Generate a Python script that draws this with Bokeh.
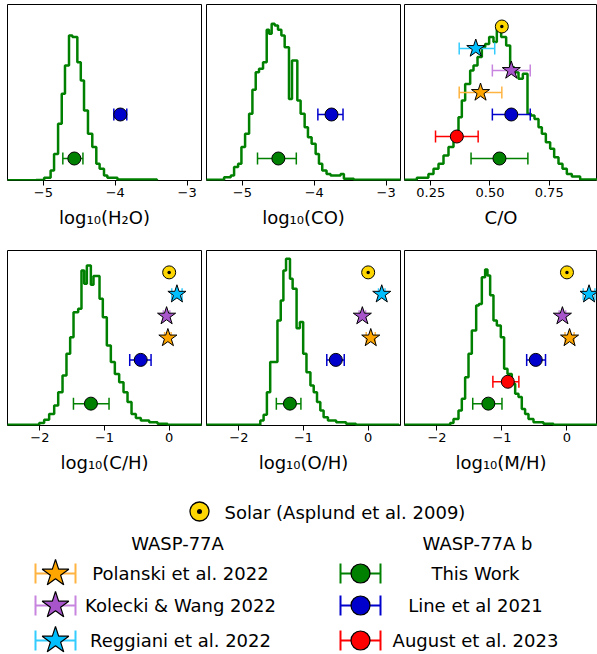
import math
from bokeh.plotting import figure
from bokeh.layouts import column, row
from bokeh.models import Range1d, FixedTicker
from bokeh.embed import file_html
from bokeh.resources import INLINE
from bokeh.core.properties import value

FONT = "DejaVu Sans"

# ---------------- data ----------------
panel_labels = ["log₁₀(H₂O)", "log₁₀(CO)", "C/O", "log₁₀(C/H)", "log₁₀(O/H)", "log₁₀(M/H)"]
panel_xranges = [(-5.5, -2.8), (-5.5, -2.8), (0.139, 0.954), (-2.5, 0.5), (-2.5, 0.5), (-2.5, 0.47)]
panel_ticks = [[-5, -4, -3], [-5, -4, -3], [0.25, 0.5, 0.75], [-2, -1, 0], [-2, -1, 0], [-2, -1, 0]]
panel_ticklabels = [["−5", "−4", "−3"], ["−5", "−4", "−3"], ["0.25", "0.50", "0.75"],
                    ["−2", "−1", "0"], ["−2", "−1", "0"], ["−2", "−1", "0"]]

# posterior histograms (This Work): bin edges and heights
h2o_edges = [-5.5, -5.10, -4.99, -4.90, -4.852, -4.796, -4.745, -4.70, -4.644, -4.597, -4.528, -4.48,
             -4.435, -4.38, -4.32, -4.264, -4.218, -4.157, -4.11, -3.97, -3.42]
h2o_heights = [0.01, 0.02, 0.12, 0.45, 1.21, 2.58, 3.94, 5.23, 6.59, 6.52, 5.38, 4.55, 3.18, 2.12,
               1.52, 0.76, 0.53, 0.23, 0.12, 0.045]

co_edges = [-5.5, -5.255, -5.162, -5.116, -5.06, -5.014, -4.963, -4.907, -4.861, -4.815, -4.769, -4.713,
            -4.662, -4.63, -4.593, -4.551, -4.505, -4.458, -4.412, -4.352, -4.31, -4.236, -4.19, -4.134,
            -4.088, -4.037, -3.981, -3.935, -3.889, -3.829, -3.773, -3.634, -3.588, -3.449, -2.8]
co_heights = [0.03, 0.15, 0.23, 0.61, 0.76, 1.52, 2.12, 3.03, 4.12, 4.92, 5.08, 5.38, 6.85, 6.67, 7.12,
              7.05, 6.85, 6.59, 6.06, 3.71, 5.45, 3.64, 3.03, 2.42, 1.97, 1.67, 1.21, 0.76, 0.45, 0.30,
              0.23, 0.30, 0.08, 0.03]

c_o_edges = [0.139, 0.191, 0.240, 0.2615, 0.2826, 0.3037, 0.3248, 0.3459, 0.367, 0.3811, 0.3952, 0.4163,
             0.4304, 0.4473, 0.4656, 0.4797, 0.4965, 0.5148, 0.5289, 0.5472, 0.5683, 0.5852, 0.6021,
             0.6204, 0.6387, 0.6584, 0.6725, 0.6880, 0.7049, 0.7190, 0.7359, 0.7541, 0.7710, 0.7893,
             0.8062, 0.8245, 0.8456, 0.8808, 0.954]
c_o_heights = [0.03, 0.12, 0.30, 0.53, 0.76, 1.14, 1.52, 2.12, 2.88, 3.64, 4.39, 5.0, 5.23, 5.61, 6.06,
               6.21, 6.52, 6.3, 6.9, 6.52, 6.14, 5.15, 4.92, 4.62, 4.85, 3.03, 2.95, 2.8, 2.42, 2.12,
               1.74, 1.44, 1.06, 0.76, 0.53, 0.30, 0.18, 0.05]

c_h_edges = [-2.5, -2.01, -1.933, -1.856, -1.778, -1.716, -1.649, -1.588, -1.531, -1.479, -1.407, -1.356,
             -1.314, -1.273, -1.211, -1.170, -1.077, -1.026, -0.964, -0.902, -0.840, -0.773, -0.706,
             -0.644, -0.582, -0.515, -0.438, -0.309, -0.180, -0.026, 0.5]
c_h_heights = [0.03, 0.11, 0.26, 0.53, 0.91, 1.52, 2.29, 3.28, 4.04, 5.18, 5.34, 7.09, 6.48, 7.32, 6.43,
               6.83, 5.79, 4.95, 3.66, 2.90, 2.36, 1.98, 1.52, 1.07, 0.53, 0.34, 0.23, 0.15, 0.08, 0.03]

o_h_edges = [-2.5, -1.668, -1.617, -1.566, -1.515, -1.403, -1.352, -1.311, -1.270, -1.209, -1.168, -1.107,
             -1.056, -1.005, -0.954, -0.893, -0.842, -0.791, -0.740, -0.689, -0.622, -0.495, -0.342,
             -0.189, 0.474]
o_h_heights = [0.03, 0.23, 0.49, 1.52, 2.90, 4.80, 5.72, 7.09, 7.62, 6.71, 6.25, 4.45, 4.73, 3.28, 2.44,
               1.83, 1.52, 1.07, 0.69, 0.38, 0.23, 0.15, 0.08, 0.03]

m_h_edges = [-2.5, -1.797, -1.746, -1.669, -1.618, -1.567, -1.515, -1.464, -1.397, -1.356, -1.31, -1.259,
             -1.223, -1.182, -1.131, -1.079, -1.018, -0.967, -0.915, -0.849, -0.797, -0.746, -0.695,
             -0.644, -0.592, -0.515, -0.362, -0.208, 0.47]
m_h_heights = [0.03, 0.12, 0.30, 0.69, 1.22, 2.21, 3.28, 4.34, 5.49, 5.56, 6.78, 7.13, 6.86, 5.95, 4.80,
               4.57, 4.04, 2.59, 2.36, 1.91, 1.45, 1.30, 0.76, 0.53, 0.30, 0.15, 0.08, 0.03]

hist_edges = [h2o_edges, co_edges, c_o_edges, c_h_edges, o_h_edges, m_h_edges]
hist_heights = [h2o_heights, co_heights, c_o_heights, c_h_heights, o_h_heights, m_h_heights]

# values per panel: (H2O, CO, C/O, C/H, O/H, M/H); None = not shown
this_work_val = [-4.57, -4.50, 0.54, -1.21, -1.21, -1.21]
this_work_lo = [0.16, 0.29, 0.12, 0.27, 0.21, 0.24]
this_work_hi = [0.12, 0.25, 0.12, 0.28, 0.17, 0.21]

august_val = [None, None, 0.36, None, None, -0.91]
august_lo = [None, None, 0.09, None, None, 0.23]
august_hi = [None, None, 0.09, None, None, 0.17]

line_val = [-3.93, -3.76, 0.59, -0.44, -0.50, -0.48]
line_lo = [0.09, 0.19, 0.08, 0.17, 0.14, 0.14]
line_hi = [0.09, 0.16, 0.08, 0.16, 0.13, 0.15]

polanski_val = [None, None, 0.46, -0.02, 0.04, 0.04]
polanski_lo = [None, None, 0.09, 0.05, 0.07, 0.07]
polanski_hi = [None, None, 0.09, 0.05, 0.07, 0.07]

kolecki_val = [None, None, 0.59, -0.04, -0.09, -0.07]
kolecki_lo = [None, None, 0.08, 0.05, 0.05, 0.05]
kolecki_hi = [None, None, 0.08, 0.05, 0.05, 0.05]

reggiani_val = [None, None, 0.44, 0.12, 0.21, 0.34]
reggiani_lo = [None, None, 0.07, 0.08, 0.05, 0.09]
reggiani_hi = [None, None, 0.08, 0.08, 0.05, 0.09]

solar_val = [None, None, 0.55, 0.0, 0.0, 0.0]

series = [
    # name, values, lo, hi, slot, marker, fill, errcolor
    ("This Work", this_work_val, this_work_lo, this_work_hi, 1, "circle", "#008000", "#008000"),
    ("August et al. 2023", august_val, august_lo, august_hi, 2, "circle", "#ff0000", "#ff0000"),
    ("Line et al 2021", line_val, line_lo, line_hi, 3, "circle", "#0000cd", "#0000cd"),
    ("Polanski et al. 2022", polanski_val, polanski_lo, polanski_hi, 4, "star", "#ffa500", "#ffb340"),
    ("Kolecki & Wang 2022", kolecki_val, kolecki_lo, kolecki_hi, 5, "star", "#a855cc", "#c785e0"),
    ("Reggiani et al. 2022", reggiani_val, reggiani_lo, reggiani_hi, 6, "star", "#00bfff", "#33ccff"),
]
solar_level = 7

HIST_COLOR = "#008000"
GOLD = "#ffd700"


def axis_style(p, idx):
    ax = p.xaxis[0]
    ax.ticker = FixedTicker(ticks=panel_ticks[idx])
    ax.major_label_overrides = {t: s for t, s in zip(panel_ticks[idx], panel_ticklabels[idx])}
    ax.axis_label = panel_labels[idx]
    ax.axis_label_text_font = FONT
    ax.axis_label_text_font_style = "normal"
    ax.axis_label_text_font_size = "18px"
    ax.axis_label_text_color = "black"
    ax.axis_label_standoff = 7
    ax.major_label_text_font = FONT
    ax.major_label_text_font_size = "13px"
    ax.major_label_text_color = "black"
    ax.major_label_standoff = 2
    ax.major_tick_in = 0
    ax.major_tick_out = 5
    ax.major_tick_line_color = "black"
    ax.minor_tick_line_color = None
    ax.axis_line_color = None


def make_panel(idx, frame_w, frame_h, bl, br, bt, bb):
    p = figure(frame_width=frame_w, frame_height=frame_h,
               x_range=Range1d(*panel_xranges[idx]), y_range=Range1d(0, 8),
               output_backend="svg", toolbar_location=None, y_axis_location=None,
               min_border_left=bl, min_border_right=br, min_border_top=bt, min_border_bottom=bb)
    p.grid.visible = False
    p.outline_line_color = "black"
    p.outline_line_width = 1
    p.background_fill_color = "white"
    p.border_fill_color = "white"
    axis_style(p, idx)

    e = hist_edges[idx]
    h = hist_heights[idx]
    xs = [e[0]]
    ys = [0.0]
    for i, hv in enumerate(h):
        xs += [e[i], e[i + 1]]
        ys += [hv, hv]
    xs.append(e[-1])
    ys.append(0.0)
    p.line(xs, ys, line_color=HIST_COLOR, line_width=2.5)

    for name, vals, lo, hi, slot, marker, fill, ecol in series:
        v = vals[idx]
        if v is None:
            continue
        x0 = v - lo[idx]
        x1 = v + hi[idx]
        p.segment(x0=[x0], y0=[slot], x1=[x1], y1=[slot], line_color=ecol, line_width=1.5)
        p.scatter(x=[x0, x1], y=[slot, slot], marker="dash", angle=math.pi / 2, size=12,
                  line_color=ecol, line_width=1.5)
        size = 13 if marker == "circle" else 19
        p.scatter(x=[v], y=[slot], marker=marker, size=size, fill_color=fill,
                  line_color="black", line_width=1)

    sv = solar_val[idx]
    if sv is not None:
        p.scatter(x=[sv], y=[solar_level], marker="circle", size=13, fill_color=GOLD,
                  line_color="black", line_width=1)
        p.scatter(x=[sv], y=[solar_level], marker="circle", size=3.5, fill_color="black",
                  line_color="black", line_width=0)
    return p


row1 = [make_panel(0, 194, 176, 7, 3, 4, 70), make_panel(1, 194, 176, 2, 2, 4, 70),
        make_panel(2, 193, 176, 2, 0, 4, 70)]
row2 = [make_panel(3, 194, 175, 7, 3, 0, 70), make_panel(4, 194, 175, 2, 2, 0, 70),
        make_panel(5, 193, 175, 2, 0, 0, 70)]

# ---------------- legend ----------------
LEG_TOP = 495
LEG_BOTTOM = 654
LEFT_KEY_X = 55
RIGHT_KEY_X = 360
LEFT_TEXT_X = 180
RIGHT_TEXT_X = 475
LEFT_HEAD_X = 177
RIGHT_HEAD_X = 477
ROW_Y = [573, 605, 640]
HEADER_Y = 543
SOLAR_X = 199
SOLAR_Y = 511
KEY_HALF = 20

lg = figure(width=597, height=LEG_BOTTOM - LEG_TOP, x_range=Range1d(0, 597),
            y_range=Range1d(LEG_BOTTOM, LEG_TOP),
            output_backend="svg", toolbar_location=None, x_axis_location=None, y_axis_location=None,
            min_border=0)
lg.grid.visible = False
lg.outline_line_color = None
lg.background_fill_color = "white"
lg.border_fill_color = "white"


def ltext(x, y, s, align="center"):
    lg.text(x=[x], y=[y], text=[s], text_font=value(FONT), text_font_size="18px",
            text_align=align, text_baseline="middle", text_color="black")


lg.scatter(x=[SOLAR_X], y=[SOLAR_Y], marker="circle", size=19, fill_color=GOLD, line_color="black", line_width=1.3)
lg.scatter(x=[SOLAR_X], y=[SOLAR_Y], marker="circle", size=5, fill_color="black", line_width=0)
ltext(SOLAR_X + 25, SOLAR_Y + 1, "Solar (Asplund et al. 2009)", align="left")
ltext(LEFT_HEAD_X, HEADER_Y, "WASP-77A")
ltext(RIGHT_HEAD_X, HEADER_Y, "WASP-77A b")

left_entries = [s for s in series if s[5] == "star"]
right_entries = [s for s in series if s[5] == "circle"]
right_entries = [right_entries[0], right_entries[2], right_entries[1]]

for entries, kx, tx in ((left_entries, LEFT_KEY_X, LEFT_TEXT_X), (right_entries, RIGHT_KEY_X, RIGHT_TEXT_X)):
    for (name, vals, lo, hi, slot, marker, fill, ecol), y in zip(entries, ROW_Y):
        lg.segment(x0=[kx - KEY_HALF], y0=[y], x1=[kx + KEY_HALF], y1=[y], line_color=ecol, line_width=2)
        lg.scatter(x=[kx - KEY_HALF, kx + KEY_HALF], y=[y, y], marker="dash", angle=math.pi / 2,
                   size=20, line_color=ecol, line_width=2)
        size = 19 if marker == "circle" else 28
        lg.scatter(x=[kx], y=[y], marker=marker, size=size, fill_color=fill, line_color="black", line_width=1.2)
        ltext(tx, y, name)

layout = column(row(*row1), row(*row2), lg)
open("out.html", "w").write(file_html(layout, INLINE))
